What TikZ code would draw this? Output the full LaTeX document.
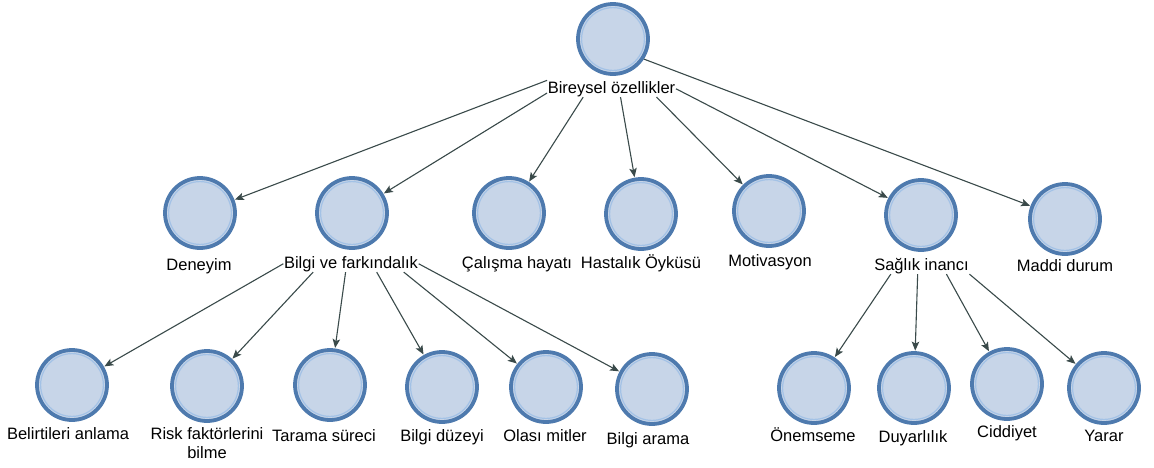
\documentclass[tikz,border=0pt]{standalone}
\usepackage{fontspec}
\setmainfont{Liberation Sans}
\usetikzlibrary{arrows.meta,calc}

\definecolor{ringblue}{HTML}{4E7AAE}
\definecolor{innerblue}{HTML}{A3C2E6}
\definecolor{discfill}{HTML}{C7D5E8}
\definecolor{edgegray}{HTML}{3A4A4A}

\tikzset{
  disc/.style={circle, minimum size=70pt, inner sep=0pt, fill=discfill,
    draw=ringblue, line width=3.8pt,
    path picture={\draw[innerblue, line width=1.2pt]
      (path picture bounding box.center) circle (31.4pt);}},
  lab/.style={anchor=base, inner sep=0.5pt, font=\fontsize{16.5}{19}\selectfont, text=black},
  link/.style={draw=edgegray, line width=1.1pt,
    -{Stealth[length=9pt, width=7.5pt, inset=2pt]}, shorten >=0.5pt}
}

\begin{document}
\begin{tikzpicture}[x=1pt, y=-1pt]
  \useasboundingbox[fill=white] (0,0) rectangle (1154,467);

  % root
  \node[disc] (root) at (613,39) {};
  \node[lab] (rootL) at (611.5,93) {Bireysel özellikler};

  % second level
  \node[disc] (den) at (200,213) {};
  \node[lab] (denL) at (199,270) {Deneyim};
  \node[disc] (bil) at (352,213) {};
  \node[lab] (bilL) at (351,268) {Bilgi ve farkındalık};
  \node[disc] (cal) at (509,213) {};
  \node[lab] (calL) at (517,268) {Çalışma hayatı};
  \node[disc] (has) at (641,214) {};
  \node[lab] (hasL) at (641,268) {Hastalık Öyküsü};
  \node[disc] (mot) at (769,211) {};
  \node[lab] (motL) at (770,266) {Motivasyon};
  \node[disc] (sag) at (921,215) {};
  \node[lab] (sagL) at (921.5,270) {Sağlık inancı};
  \node[disc] (mad) at (1065,219) {};
  \node[lab] (madL) at (1065,271) {Maddi durum};

  % third level under "Bilgi ve farkındalık"
  \node[disc] (bel) at (72,385) {};
  \node[lab] (belL) at (68,439) {Belirtileri anlama};
  \node[disc] (ris) at (207,386) {};
  % a two-line label sits on the baseline of its last line
  \node[lab, align=center] (risL) at (207,458) {Risk faktörlerini\\bilme};
  \node[disc] (tar) at (330,385) {};
  \node[lab] (tarL) at (324,441) {Tarama süreci};
  \node[disc] (duz) at (442,387) {};
  \node[lab] (duzL) at (442,441) {Bilgi düzeyi};
  \node[disc] (ola) at (546,387) {};
  \node[lab] (olaL) at (545,441) {Olası mitler};
  \node[disc] (ara) at (652,389) {};
  \node[lab] (araL) at (648,444) {Bilgi arama};

  % third level under "Sağlık inancı"
  \node[disc] (one) at (814,388) {};
  \node[lab] (oneL) at (813,441) {Önemseme};
  \node[disc] (duy) at (914,388) {};
  \node[lab] (duyL) at (913,442) {Duyarlılık};
  \node[disc] (cid) at (1007,384) {};
  \node[lab] (cidL) at (1007,437) {Ciddiyet};
  \node[disc] (yar) at (1104,388) {};
  \node[lab] (yarL) at (1104,441) {Yarar};

  % connectors from the root label
  \draw[link] (rootL.north west) -- (den);
  \draw[link] (rootL.base west) -- (bil);
  \draw[link] ($(rootL.south west)!0.28!(rootL.south east)$) -- (cal);
  \draw[link] ($(rootL.south west)!0.57!(rootL.south east)$) -- (has);
  \draw[link] ($(rootL.south west)!0.85!(rootL.south east)$) -- (mot);
  \draw[link] (rootL.east) -- (sag);
  \draw[link] (root.-33) -- (mad);

  % connectors from "Bilgi ve farkındalık"
  \draw[link] (bilL.west) -- (bel);
  \draw[link] ($(bilL.south west)!0.22!(bilL.south east)$) -- (ris);
  \draw[link] ($(bilL.south west)!0.46!(bilL.south east)$) -- (tar);
  \draw[link] ($(bilL.south west)!0.69!(bilL.south east)$) -- (duz);
  \draw[link] ($(bilL.south west)!0.89!(bilL.south east)$) -- (ola);
  \draw[link] (bilL.east) -- (ara);

  % connectors from "Sağlık inancı"
  \draw[link] ($(sagL.south west)!0.18!(sagL.south east)$) -- (one);
  \draw[link] ($(sagL.south west)!0.46!(sagL.south east)$) -- (duy);
  \draw[link] ($(sagL.south west)!0.76!(sagL.south east)$) -- (cid);
  \draw[link] (sagL.south east) -- (yar);
\end{tikzpicture}
\end{document}
